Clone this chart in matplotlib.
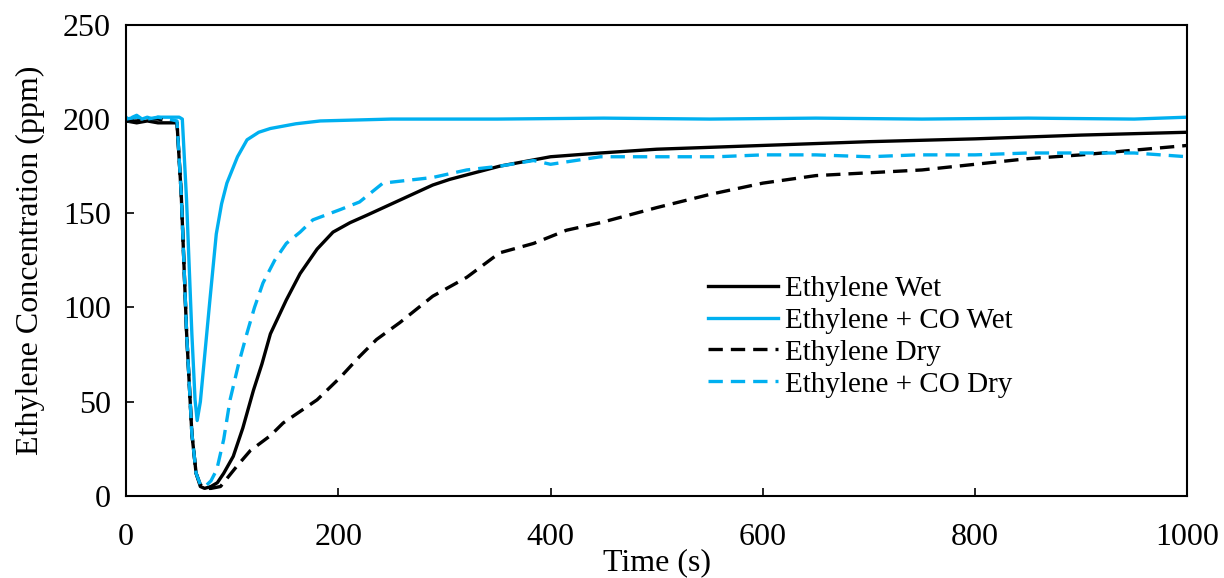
import matplotlib.pyplot as plt

plt.rcParams['font.family'] = ['Liberation Serif', 'DejaVu Serif']

# Ethylene Wet (solid black)
wet_t = [0, 10, 20, 30, 40, 48, 52, 57, 62, 66, 70, 74, 80, 86, 92, 101, 110, 120, 128, 136,
         151, 164, 180, 195, 211, 227, 258, 289, 305, 352, 400, 447, 500, 600, 700, 800, 900, 1000]
wet_v = [199, 198, 199, 198, 198, 198, 160, 87, 33, 12, 5, 4, 5, 7, 12, 21, 36, 56, 70, 86,
         104, 118, 131, 140, 145, 149, 157, 165, 168, 175, 180, 182, 184, 186, 188, 189.5, 191.5, 193]

# Ethylene + CO Wet (solid blue)
co_wet_t = [0, 3, 6, 10, 15, 20, 25, 30, 40, 50, 53, 57, 62, 65, 67, 70, 75, 79, 85, 90, 95,
            105, 114, 125, 136, 160, 183, 250, 350, 450, 550, 650, 750, 850, 950, 1000]
co_wet_v = [201, 199, 201, 202, 200, 201, 200, 201, 201, 201, 200, 157, 86, 51, 40, 50, 80, 104, 139, 155, 166,
            180, 189, 193, 195, 197.5, 199, 200, 200, 200.5, 200, 200.5, 200, 200.5, 200, 201]

# Ethylene Dry (dashed black)
dry_t = [0, 10, 20, 30, 40, 48, 52, 57, 62, 66, 70, 75, 80, 89, 104, 117, 136, 148, 167, 180,
         202, 220, 236, 258, 289, 321, 352, 384, 415, 447, 500, 550, 600, 650, 700, 750, 800,
         850, 900, 950, 1000]
dry_v = [199, 199, 200, 200, 199, 198, 160, 87, 33, 12, 6, 4, 4, 5, 15.5, 24, 32, 38.7, 46, 51,
         63, 74, 83, 92, 106, 116, 129, 134, 141, 145, 153, 160, 166, 170, 171.5, 173, 176,
         179, 181, 183.5, 186]

# Ethylene + CO Dry (dashed blue)
co_dry_t = [0, 10, 20, 30, 40, 48, 52, 57, 62, 66, 70, 74.5, 80, 85.5, 92, 98, 106, 114, 121,
            129, 140, 151, 164, 176, 202, 220, 242, 289, 321, 352, 384, 400, 447, 500, 557,
            600, 650, 700, 745, 800, 850, 900, 950, 1000]
co_dry_v = [200, 201, 200, 201, 200, 199, 160, 87, 33, 12, 6, 5, 8, 14, 30, 51, 70, 86.5, 100,
            113, 125, 134, 140, 146.5, 152, 156, 166, 169, 173, 175, 178, 176, 180, 180, 180,
            181, 181, 180, 181, 181, 182, 182, 182, 180]

blue = '#00B0F0'

fig, ax = plt.subplots(figsize=(12.24, 5.78), dpi=100)
fig.subplots_adjust(left=0.103, right=0.97, top=0.957, bottom=0.142)

ax.plot(wet_t, wet_v, color='black', lw=2.4, label='Ethylene Wet')
ax.plot(co_wet_t, co_wet_v, color=blue, lw=2.4, label='Ethylene + CO Wet')
ax.plot(dry_t, dry_v, color='black', lw=2.4, dashes=(4.3, 2.4), label='Ethylene Dry')
ax.plot(co_dry_t, co_dry_v, color=blue, lw=2.4, dashes=(4.3, 2.4), label='Ethylene + CO Dry')

ax.set_xlim(0, 1000)
ax.set_ylim(0, 250)
ax.set_xticks([0, 200, 400, 600, 800, 1000])
ax.set_yticks([0, 50, 100, 150, 200, 250])
ax.tick_params(direction='in', labelsize=23, length=6, width=1.2)
ax.tick_params(axis='x', pad=19.5)
ax.tick_params(axis='y', pad=11)
for s in ax.spines.values():
    s.set_linewidth(1.5)

ax.set_xlabel('Time (s)', fontsize=23, labelpad=-2.5)
ax.set_ylabel('Ethylene Concentration (ppm)', fontsize=23, labelpad=13)

ax.legend(loc='upper left', bbox_to_anchor=(0.537, 0.493), frameon=False, fontsize=21,
          handlelength=2.4, handletextpad=0.25, labelspacing=0.19, borderaxespad=0)

fig.savefig('out.png', dpi=100)
